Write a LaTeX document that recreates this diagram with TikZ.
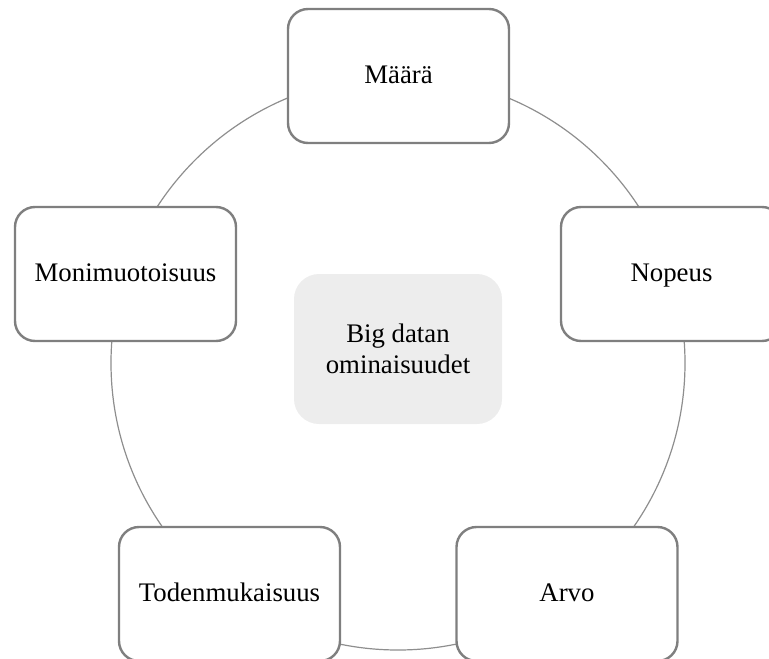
\documentclass[tikz,border=0pt]{standalone}
\usepackage{fontspec}
\setmainfont{Liberation Serif}
\definecolor{boxline}{HTML}{7F7F7F}
\definecolor{ringline}{HTML}{8E8E8E}
\definecolor{centerfill}{HTML}{EDEDED}
\begin{document}
\begin{tikzpicture}[x=1pt,y=-1pt,
  item/.style={draw=boxline, line width=2.4pt, fill=white, rounded corners=20pt,
    minimum width=221pt, minimum height=134pt, inner sep=0pt,
    text height=18pt, text depth=3pt,
    font=\fontsize{26.8}{31}\selectfont, align=center},
  hub/.style={fill=centerfill, rounded corners=25pt,
    minimum width=208pt, minimum height=150pt, inner sep=0pt,
    font=\fontsize{26.8}{30.5}\selectfont, align=center},
  ring/.style={draw=ringline, line width=1.2pt}]
\useasboundingbox (0,0) rectangle (769,659);
\clip (0,0) rectangle (769,659);
\coordinate (c) at (398,363);
\draw[ring] (c) circle[radius=287];
\node[item] (maara) at (398.5,76) {Määrä};
\node[item] (nopeus) at (671.5,274) {Nopeus};
\node[item] (arvo) at (567,594) {Arvo};
\node[item] (toden) at (229.5,594) {Todenmukaisuus};
\node[item] (moni) at (125.5,274) {Monimuotoisuus};
\node[hub] (hubnode) at (398,349) {Big datan\\ominaisuudet};
\end{tikzpicture}
\end{document}
